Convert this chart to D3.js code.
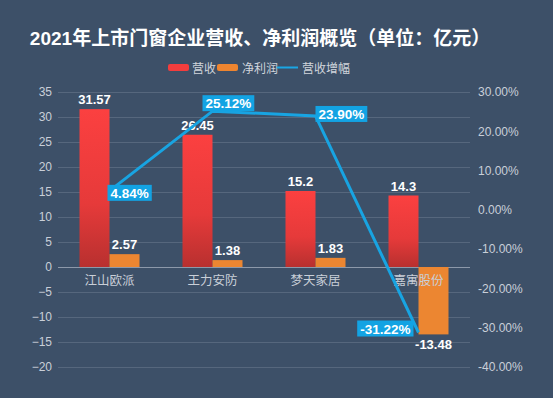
<!DOCTYPE html>
<html>
<head>
<meta charset="utf-8">
<script src="https://cdn.jsdelivr.net/npm/d3@7"></script>
<style>
  body { margin: 0; background: #3d5068; }
  svg { display: block; font-family: "Liberation Sans", "Noto Sans CJK SC", sans-serif; }
</style>
</head>
<body>
<div id="chart"></div>
<script>
// data
var companies = ["江山欧派", "王力安防", "梦天家居", "嘉寓股份"];
var revenue = [31.57, 26.45, 15.2, 14.3];
var netProfit = [2.57, 1.38, 1.83, -13.48];
var revenueGrowth = [4.84, 25.12, 23.90, -31.22];
var leftTicks = [35, 30, 25, 20, 15, 10, 5, 0, -5, -10, -15, -20];
var rightTicks = [30, 20, 10, 0, -10, -20, -30, -40];

// label box placement relative to its point (styling only)
var growthLabelPos = [
  { dx: -2, dy: 2, anchor: "start" },
  { dx: -10, dy: -8, anchor: "start" },
  { dx: 0, dy: -2, anchor: "start" },
  { dx: -5, dy: -4, anchor: "end" }
];

var svgWidth = 553;
var svgHeight = 398;

var plot = { left: 58, right: 470, top: 92, bottom: 367 };

var svg = d3.select("#chart")
  .append("svg")
  .attr("width", svgWidth)
  .attr("height", svgHeight);

svg.append("rect")
  .attr("width", svgWidth)
  .attr("height", svgHeight)
  .attr("fill", "#3d5068");

var defs = svg.append("defs");
var grad = defs.append("linearGradient")
  .attr("id", "redGrad")
  .attr("x1", 0).attr("y1", 0).attr("x2", 0).attr("y2", 1);
grad.append("stop").attr("offset", "0%").attr("stop-color", "#fb4040");
grad.append("stop").attr("offset", "60%").attr("stop-color", "#e63a3a");
grad.append("stop").attr("offset", "100%").attr("stop-color", "#b8302f");

// scales
var xScale = d3.scaleBand()
  .domain(companies)
  .range([plot.left, plot.right]);

var yLeft = d3.scaleLinear()
  .domain([-20, 35])
  .range([plot.bottom, plot.top]);

var yRight = d3.scaleLinear()
  .domain([-40, 30])
  .range([plot.bottom, plot.top]);

var barW = 30;

// title
svg.append("text")
  .attr("x", 260)
  .attr("y", 45)
  .attr("text-anchor", "middle")
  .attr("font-size", "19px")
  .attr("font-weight", "bold")
  .attr("fill", "#ffffff")
  .text("2021年上市门窗企业营收、净利润概览（单位：亿元）");

// legend
var legend = svg.append("g").attr("font-size", "12px").attr("fill", "#d0d5dc");
legend.append("rect").attr("x", 168).attr("y", 64).attr("width", 21).attr("height", 7).attr("rx", 2).attr("fill", "#f33d3d");
legend.append("text").attr("x", 192).attr("y", 73).attr("fill", "#d0d5dc").text("营收");
legend.append("rect").attr("x", 217).attr("y", 64).attr("width", 21).attr("height", 7).attr("rx", 2).attr("fill", "#ee8530");
legend.append("text").attr("x", 242).attr("y", 73).attr("fill", "#d0d5dc").text("净利润");
legend.append("line").attr("x1", 277).attr("x2", 298).attr("y1", 67.5).attr("y2", 67.5)
  .attr("stroke", "#1aa6e4").attr("stroke-width", 2);
legend.append("text").attr("x", 302).attr("y", 73).attr("fill", "#d0d5dc").text("营收增幅");

// grid lines
svg.append("g")
  .selectAll("line")
  .data(leftTicks)
  .enter()
  .append("line")
  .attr("x1", plot.left)
  .attr("x2", plot.right)
  .attr("y1", d => yLeft(d) + 0.5)
  .attr("y2", d => yLeft(d) + 0.5)
  .attr("stroke", d => d === 0 ? "#8d99aa" : "#56677d")
  .attr("stroke-width", 1);

// left axis
var leftAxis = d3.axisLeft(yLeft).tickValues(leftTicks).tickSize(0).tickPadding(6);
var gl = svg.append("g")
  .attr("transform", `translate(${plot.left}, 0)`)
  .call(leftAxis);
gl.select(".domain").remove();
gl.selectAll("text").attr("fill", "#c9cfd8").attr("font-size", "12px");

// right axis
var rightAxis = d3.axisRight(yRight).tickValues(rightTicks).tickSize(0).tickPadding(8)
  .tickFormat(d => d.toFixed(2) + "%");
var gr = svg.append("g")
  .attr("transform", `translate(${plot.right}, 0)`)
  .call(rightAxis);
gr.select(".domain").remove();
gr.selectAll("text").attr("fill", "#c9cfd8").attr("font-size", "12px");

// bars
var barGroup = svg.append("g");
barGroup.selectAll(".rev")
  .data(companies)
  .enter()
  .append("rect")
  .attr("class", "rev")
  .attr("x", d => xScale(d) + xScale.bandwidth() / 2 - barW)
  .attr("y", (d, i) => yLeft(Math.max(0, revenue[i])))
  .attr("width", barW)
  .attr("height", (d, i) => Math.abs(yLeft(revenue[i]) - yLeft(0)))
  .attr("fill", "url(#redGrad)");

barGroup.selectAll(".np")
  .data(companies)
  .enter()
  .append("rect")
  .attr("class", "np")
  .attr("x", d => xScale(d) + xScale.bandwidth() / 2)
  .attr("y", (d, i) => yLeft(Math.max(0, netProfit[i])))
  .attr("width", barW)
  .attr("height", (d, i) => Math.abs(yLeft(netProfit[i]) - yLeft(0)))
  .attr("fill", "#ec8631");

// x labels
svg.append("g")
  .selectAll("text")
  .data(companies)
  .enter()
  .append("text")
  .attr("x", d => xScale(d) + xScale.bandwidth() / 2)
  .attr("y", yLeft(0) + 18)
  .attr("text-anchor", "middle")
  .attr("font-size", "12.5px")
  .attr("fill", "#c9cfd8")
  .text(d => d);

// bar value labels
function valueLabels(values, offset) {
  svg.append("g")
    .selectAll("text")
    .data(companies)
    .enter()
    .append("text")
    .attr("x", d => xScale(d) + xScale.bandwidth() / 2 + offset)
    .attr("y", (d, i) => values[i] >= 0 ? yLeft(values[i]) - 5 : yLeft(values[i]) + 15)
    .attr("text-anchor", "middle")
    .attr("font-size", "13px")
    .attr("font-weight", "bold")
    .attr("fill", "#ffffff")
    .text((d, i) => values[i]);
}
valueLabels(revenue, -barW / 2);
valueLabels(netProfit, barW / 2);

// growth line
var line = d3.line()
  .x((d, i) => xScale(companies[i]) + xScale.bandwidth() / 2)
  .y(d => yRight(d));

svg.append("path")
  .datum(revenueGrowth)
  .attr("d", line)
  .attr("fill", "none")
  .attr("stroke", "#18a4e2")
  .attr("stroke-width", 3);

// growth labels
var lg = svg.append("g");
revenueGrowth.forEach(function(v, i) {
  var px = xScale(companies[i]) + xScale.bandwidth() / 2;
  var py = yRight(v);
  var pos = growthLabelPos[i];
  var g = lg.append("g");
  var t = g.append("text")
    .attr("x", px + pos.dx + (pos.anchor === "start" ? 3 : -3))
    .attr("y", py + pos.dy + 5)
    .attr("text-anchor", pos.anchor)
    .attr("font-size", "13.5px")
    .attr("font-weight", "bold")
    .attr("fill", "#ffffff")
    .text(v.toFixed(2) + "%");
  var bb = t.node().getBBox();
  g.insert("rect", "text")
    .attr("x", bb.x - 3)
    .attr("y", py + pos.dy - 8)
    .attr("width", bb.width + 6)
    .attr("height", 16)
    .attr("fill", "#13a3e3");
});
</script>
</body>
</html>
